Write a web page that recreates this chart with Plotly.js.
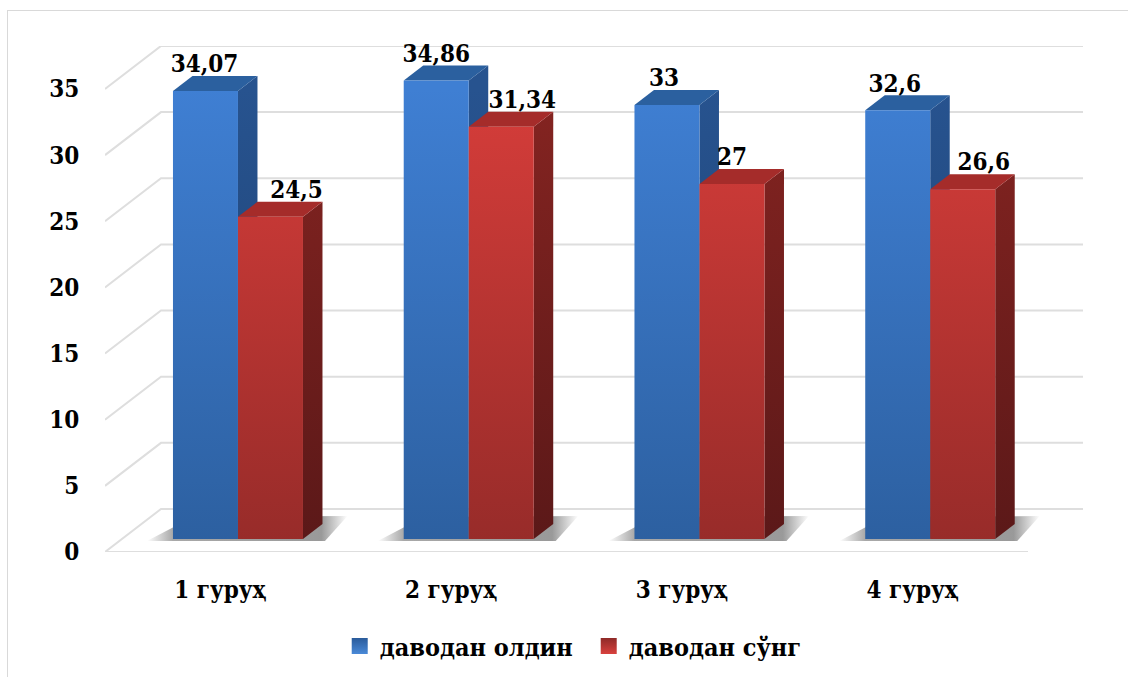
<!DOCTYPE html>
<html><head><meta charset="utf-8">
<script src="https://cdn.plot.ly/plotly-3.0.1.min.js"></script>
<style>html,body{margin:0;padding:0;background:#fff;overflow:hidden}
#frame{position:absolute;left:7px;top:10px;width:1121px;height:667px;border-left:1px solid #d9d9d9;border-top:1px solid #d9d9d9;box-sizing:border-box}
#chart{position:absolute;left:0;top:0;width:1128px;height:677px}</style></head>
<body><div id="frame"></div><div id="chart"></div>
<script>
const categories = ['1 гуруҳ', '2 гуруҳ', '3 гуруҳ', '4 гуруҳ'];
const before = [34.07, 34.86, 33, 32.6];
const after = [24.5, 31.34, 27, 26.6];
const seriesNames = ['даводан олдин', 'даводан сўнг'];
const yTicks = [0, 5, 10, 15, 20, 25, 30, 35];

const FONT = '"DejaVu Serif Condensed", "DejaVu Serif", serif';
const FS = 24;
// pixel scales of the plot area (used to express 3-D depth offsets in data units)
const pxPerCat = 230.75, pxPerUnit = 13.23;
const X = p => p / pxPerCat, Y = p => p / pxPerUnit;
const wallDX = X(56), wallDY = Y(43);
const xMin = -0.5, xFloorEnd = 3.5, xMax = 3.5 + X(55);
const barShiftX = X(17.6), barShiftY = Y(13), barW = X(65), depthX = X(19.5), depthY = Y(15);
const barScale = 0.994;
// horizontal nudge of the value labels (pixels), per series
const labelNudge = [[-1, 0, -3, -3], [26, 21, 0, 21]];

const traces = [];
// walls / floor grid
const gx = [], gy = [];
yTicks.forEach(v => { gx.push(xMin, xMin + wallDX, xMax, null); gy.push(v, v + wallDY, v + wallDY, null); });
gx.push(xMin, xFloorEnd); gy.push(0, 0);
traces.push({type:'scatter', mode:'lines', x:gx, y:gy, line:{color:'#dedede', width:2}, showlegend:false, hoverinfo:'skip'});

// floor shadows
categories.forEach((c, i) => {
  const l = i + barShiftX - barW, b = barShiftY;
  traces.push({type:'scatter', mode:'lines', line:{width:0}, fill:'toself', showlegend:false, hoverinfo:'skip',
    x:[l - X(26), l + X(20), l + 2*barW + depthX + X(25), l + 2*barW + X(22)],
    y:[b - Y(2), b + Y(22), b + Y(23), b - Y(2)],
    fillgradient:{type:'horizontal', colorscale:[[0,'rgba(110,110,110,0)'],[0.13,'rgba(110,110,110,0.6)'],[0.87,'rgba(110,110,110,0.7)'],[1,'rgba(110,110,110,0)']]}});
});

function face(xs, ys, c0, c1) {
  return {type:'scatter', mode:'lines', line:{width:0}, fill:'toself', x:xs, y:ys, showlegend:false, hoverinfo:'skip',
    fillgradient:{type:'vertical', colorscale:[[0,c0],[1,c1]], start:0, stop:35}};
}
const pal = [
  {f0:'#2c5f9f', f1:'#3f7fd3', s0:'#1d3f6f', s1:'#27538f', t:'#2b609f'},
  {f0:'#962b29', f1:'#d63d3a', s0:'#5a1818', s1:'#852421', t:'#a52c2a'}
];
[before, after].forEach((vals, k) => {
  const P = pal[k];
  vals.forEach((v, i) => {
    const l = i + barShiftX - barW + k * barW, r = l + barW, b = barShiftY, t = b + v * barScale;
    traces.push(face([r, r + depthX, r + depthX, r, r], [b, b + depthY, t + depthY, t, b], P.s0, P.s1));
    traces.push({type:'scatter', mode:'lines', line:{width:0}, fill:'toself', fillcolor:P.t, showlegend:false, hoverinfo:'skip',
      x:[l, l + depthX, r + depthX, r, l], y:[t, t + depthY, t + depthY, t, t]});
    traces.push(face([l, r, r, l, l], [b, b, t, t, b], P.f0, P.f1));
  });
  // value labels
  traces.push({type:'scatter', mode:'text', showlegend:false, hoverinfo:'skip', cliponaxis:false,
    x:vals.map((v, i) => i + barShiftX - barW + k * barW + barW / 2 + X(labelNudge[k][i])),
    y:vals.map(v => barShiftY + v * barScale + depthY * 0.85),
    text:vals.map(v => String(v).replace('.', ',')), textposition:'top center',
    textfont:{family:FONT, size:FS, color:'#000', weight:'bold'}});
  // legend entry
  traces.push({type:'scatter', mode:'markers', name:seriesNames[k], x:[null], y:[null], hoverinfo:'skip',
    marker:{symbol:'square', size:16, color:k ? '#8f2a28' : '#2a5b9b', gradient:{type:'vertical', color:k ? '#d9413e' : '#4a8ad8'}, line:{width:0}}});
});

const layout = {
  width:1128, height:677, paper_bgcolor:'rgba(0,0,0,0)', plot_bgcolor:'rgba(0,0,0,0)',
  margin:{l:105, r:45, t:46, b:125, autoexpand:false}, hovermode:false,
  xaxis:{range:[xMin, xMax], tickvals:categories.map((c, i) => i), ticktext:categories, showgrid:false, zeroline:false,
    ticks:'outside', ticklen:16, tickcolor:'rgba(0,0,0,0)', tickfont:{family:FONT, size:FS, color:'#000', weight:'bold'}},
  yaxis:{range:[0, 506 / pxPerUnit], tickvals:yTicks, showgrid:false, zeroline:false,
    ticks:'outside', ticklen:20, tickcolor:'rgba(0,0,0,0)', tickfont:{family:FONT, size:FS, color:'#000', weight:'bold'}},
  legend:{orientation:'h', x:0.24, xanchor:'left', y:-0.141, yanchor:'top', font:{family:FONT, size:25, color:'#000', weight:'bold'},
    itemsizing:'trace', itemwidth:30, entrywidth:204, entrywidthmode:'pixels', bgcolor:'rgba(0,0,0,0)'},
  showlegend:true
};
Plotly.newPlot('chart', traces, layout, {displayModeBar:false, staticPlot:true});
</script></body></html>
